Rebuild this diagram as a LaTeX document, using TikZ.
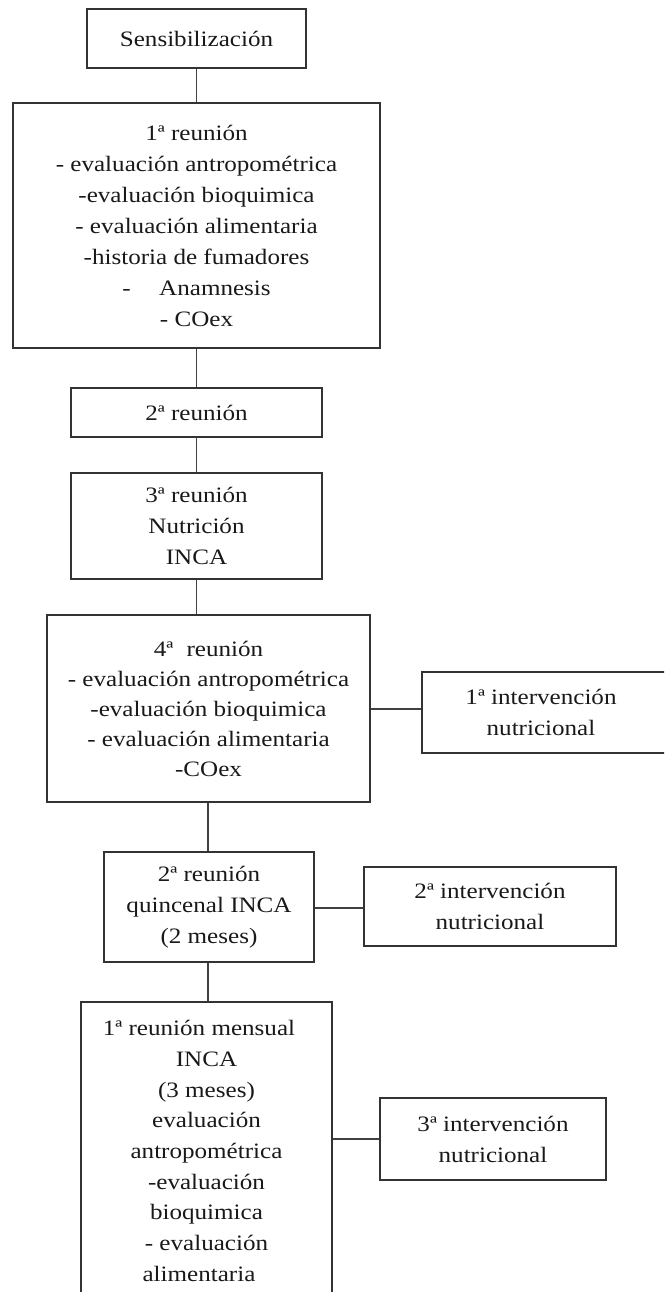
\documentclass[tikz,border=0pt]{standalone}
\usepackage{fontspec}
\setmainfont{Liberation Serif}[FakeStretch=1.14]
\begin{document}
\begin{tikzpicture}[x=1pt,y=-1pt,
  box/.style={draw=black!80,line width=1.8pt,inner sep=0pt,align=center,
    font=\fontsize{22}{31}\selectfont,text=black!90},
  link/.style={draw=black!75,line width=1.8pt}]
\clip (0,0) rectangle (664,1292);
\fill[white] (0,0) rectangle (664,1292);

\node[box,minimum width=219pt,minimum height=59pt] (sens) at (196.5,38.5) {Sensibilización};
\node[box,minimum width=367pt,minimum height=245pt] (r1) at (196.5,225.5)
  {1ª reunión\\- evaluación antropométrica\\-evaluación bioquimica\\- evaluación alimentaria\\-historia de fumadores\\-\hspace{1.3em}Anamnesis\\- COex};
\node[box,minimum width=251pt,minimum height=49pt] (r2) at (196.5,412.5) {2ª reunión};
\node[box,minimum width=251pt,minimum height=106pt] (r3) at (196.5,526) {3ª reunión\\Nutrición\\INCA};
\node[box,minimum width=323pt,minimum height=187pt,font=\fontsize{22}{30}\selectfont] (r4) at (208.5,708.5)
  {4ª\hspace{0.6em}reunión\\- evaluación antropométrica\\-evaluación bioquimica\\- evaluación alimentaria\\-COex};
\node[box,minimum width=258pt,minimum height=81pt] (i1) at (551,712.5)
  {1ª intervención\hspace*{20pt}\\nutricional\hspace*{20pt}};
\node[box,minimum width=210pt,minimum height=110pt] (r5) at (209,907) {2ª reunión\\quincenal INCA\\(2 meses)};
\node[box,minimum width=252pt,minimum height=79pt] (i2) at (490,906.5) {2ª intervención\\nutricional};
\node[box,minimum width=251pt,minimum height=298pt,font=\fontsize{22}{30.7}\selectfont] (r6) at (206.5,1151)
  {1ª reunión mensual\hspace*{15pt}\\INCA\hspace*{15pt}\\(3 meses)\hspace*{15pt}\\evaluación\hspace*{15pt}\\antropométrica\hspace*{15pt}\\-evaluación\hspace*{15pt}\\bioquimica\hspace*{15pt}\\- evaluación\hspace*{15pt}\\alimentaria\hspace*{15pt}};
\node[box,minimum width=226pt,minimum height=82pt] (i3) at (493,1139) {3ª intervención\\nutricional};

\draw[link] (sens.south) -- (r1.north);
\draw[link] (r1.south) -- (r2.north);
\draw[link] (r2.south) -- (r3.north);
\draw[link] (r3.south) -- (r3.south |- r4.north);
\draw[link] ([xshift=-0.5pt]r4.south) -- ([xshift=-0.5pt]r4.south |- r5.north);
\draw[link] ([xshift=-1pt]r5.south) -- ([xshift=-1pt]r5.south |- r6.north);
\draw[link] ([yshift=-0.5pt]r4.east) -- ([yshift=-0.5pt]r4.east -| i1.west);
\draw[link] ([yshift=-1pt]r5.east) -- ([yshift=-1pt]r5.east -| i2.west);
\draw[link] (i3.west -| r6.east) -- (i3.west);
\end{tikzpicture}
\end{document}
